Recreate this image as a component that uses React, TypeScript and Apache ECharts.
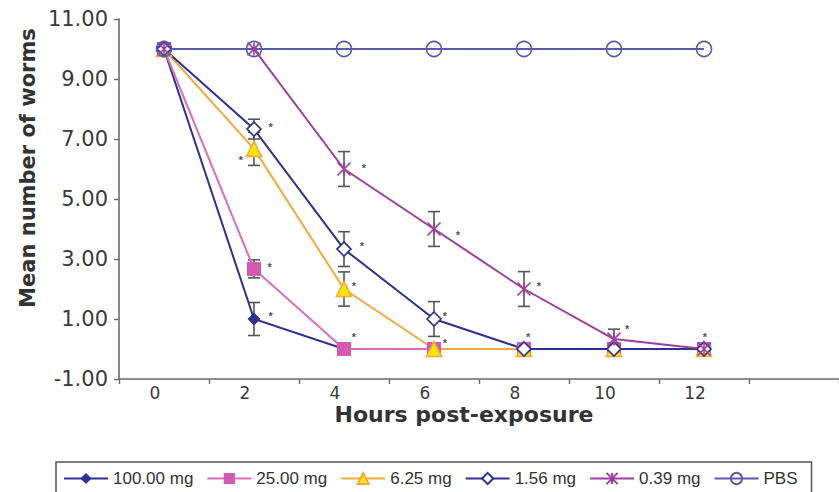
import React, { useEffect, useRef } from 'react';
import * as echarts from 'echarts';

// ---- data ----
const hours = [0, 2, 4, 6, 8, 10, 12];
const xTickLabels = ['0', '2', '4', '6', '8', '10', '12', ''];
const seriesNames = ['100.00 mg', '25.00 mg', '6.25 mg', '1.56 mg', '0.39 mg', 'PBS'];

const mean100 = [10, 1.0, 0, 0, 0, 0, 0];
const mean25 = [10, 2.67, 0, 0, 0, 0, 0];
const mean625 = [10, 6.67, 2.0, 0, 0, 0, 0];
const mean156 = [10, 7.33, 3.33, 1.0, 0, 0, 0];
const mean039 = [10, 10, 6.0, 4.0, 2.0, 0.33, 0];
const meanPBS = [10, 10, 10, 10, 10, 10, 10];

const err100 = [0, 0.55, 0, 0, 0, 0, 0];
const err25 = [0, 0.3, 0, 0, 0, 0, 0];
const err625 = [0, 0.55, 0.57, 0, 0, 0, 0];
const err156 = [0, 0.33, 0.58, 0.58, 0, 0, 0];
const err039 = [0, 0, 0.58, 0.58, 0.58, 0.33, 0];
const errPBS = [0, 0, 0, 0, 0, 0, 0];

// significance marks: [hour, mean number of worms]
const asteriskHours = [2.37, 2.35, 1.71, 2.37, 4.44, 4.4, 4.22, 4.22, 6.53, 6.24, 6.24, 8.33, 8.09, 10.29, 12.02];
const asteriskValues = [1.2, 2.83, 6.4, 7.5, 6.13, 3.53, 2.2, 0.5, 3.9, 1.2, 0.3, 2.2, 0.5, 0.77, 0.5];

const yMin = -1;
const yMax = 11;
const yInterval = 2;

const means = [mean100, mean25, mean625, mean156, mean039, meanPBS];
const errs = [err100, err25, err625, err156, err039, errPBS];

const STAR = 'path://M0,0L10,10M10,0L0,10M5,0L5,10';

const styles = [
  { line: '#2E3192', symbol: 'diamond', size: 13, fill: '#2E3192', border: '#2E3192' },
  { line: '#DA6EBA', symbol: 'rect', size: 14, fill: '#D35AB0', border: '#D35AB0' },
  { line: '#F5A83C', symbol: 'triangle', size: 15, fill: '#FFE800', border: '#F5A83C' },
  { line: '#2E3192', symbol: 'diamond', size: 14, fill: '#FFFFFF', border: '#2E3192' },
  { line: '#9E3D9E', symbol: STAR, size: 13, fill: 'rgba(0,0,0,0)', border: '#9E3D9E' },
  { line: '#5B5BAE', symbol: 'circle', size: 15, fill: 'rgba(0,0,0,0)', border: '#5B5BAE' },
];

export default function App() {
  const ref = useRef<HTMLDivElement>(null);

  useEffect(() => {
    if (!ref.current) return;
    const chart = echarts.init(ref.current, undefined, { renderer: 'svg' });

    const lineSeries = seriesNames.map((name, si) => {
      const st = styles[si];
      return {
        name,
        type: 'line',
        xAxisIndex: 1,
        yAxisIndex: 0,
        z: 3,
        data: hours.map((h, i) => [h, means[si][i]]),
        symbol: st.symbol,
        symbolSize: st.size,
        showSymbol: true,
        lineStyle: { color: st.line, width: 2 },
        itemStyle: {
          color: st.fill,
          borderColor: st.border,
          borderWidth: st.fill === st.border ? 0 : 1.6,
          opacity: 1,
        },
        emphasis: { disabled: true },
      };
    });

    const errData: number[][] = [];
    errs.forEach((arr, si) => {
      arr.forEach((e, i) => {
        if (e > 0) errData.push([hours[i], means[si][i], e]);
      });
    });

    const errorSeries = {
      type: 'custom',
      xAxisIndex: 1,
      yAxisIndex: 0,
      z: 2,
      data: errData,
      renderItem: (params: any, api: any) => {
        const x = api.value(0);
        const m = api.value(1);
        const e = api.value(2);
        const top = api.coord([x, m + e]);
        const bot = api.coord([x, m - e]);
        const w = 6;
        const style = { stroke: '#555555', lineWidth: 1.6 };
        return {
          type: 'group',
          children: [
            { type: 'line', shape: { x1: top[0], y1: top[1], x2: bot[0], y2: bot[1] }, style },
            { type: 'line', shape: { x1: top[0] - w, y1: top[1], x2: top[0] + w, y2: top[1] }, style },
            { type: 'line', shape: { x1: bot[0] - w, y1: bot[1], x2: bot[0] + w, y2: bot[1] }, style },
          ],
        };
      },
    };

    const asteriskSeries = {
      type: 'scatter',
      xAxisIndex: 1,
      yAxisIndex: 0,
      z: 4,
      symbolSize: 1,
      itemStyle: { color: 'rgba(0,0,0,0)' },
      data: asteriskHours.map((h, i) => [h, asteriskValues[i]]),
      label: {
        show: true,
        position: 'inside',
        formatter: '*',
        fontSize: 11,
        fontWeight: 'bold',
        fontFamily: 'Arial',
        color: '#222222',
        offset: [0, 3],
      },
      emphasis: { disabled: true },
    };

    chart.setOption({
      animation: false,
      backgroundColor: '#ffffff',
      grid: { left: 119, top: 19, width: 728, height: 360, containLabel: false },
      xAxis: [
        {
          type: 'category',
          data: xTickLabels,
          boundaryGap: true,
          axisLine: { onZero: false, lineStyle: { color: '#6a6a6a', width: 1.6 } },
          axisTick: { show: true, interval: 0, length: 5, alignWithLabel: false, lineStyle: { color: '#6a6a6a', width: 1.4 } },
          axisLabel: {
            interval: 0,
            margin: 5,
            fontSize: 17,
            fontFamily: 'DejaVu Sans',
            color: '#3a3a3a',
            padding: [0, 18, 0, 0],
          },
          splitLine: { show: false },
        },
        {
          type: 'value',
          min: -1,
          max: 15,
          show: false,
          splitLine: { show: false },
        },
      ],
      yAxis: [
        {
          type: 'value',
          min: yMin,
          max: yMax,
          interval: yInterval,
          axisLine: { show: true, onZero: false, lineStyle: { color: '#6a6a6a', width: 1.6 } },
          axisTick: { show: true, length: 5, lineStyle: { color: '#6a6a6a', width: 1.4 } },
          axisLabel: {
            margin: 11,
            fontSize: 21,
            fontFamily: 'DejaVu Sans',
            color: '#3a3a3a',
            formatter: (v: number) => v.toFixed(2),
          },
          splitLine: { show: false },
        },
      ],
      legend: {
        left: 56,
        top: 462,
        data: seriesNames,
        orient: 'horizontal',
        itemWidth: 44,
        itemHeight: 14,
        itemGap: 13,
        padding: [8, 14, 20, 7],
        borderColor: '#555555',
        borderWidth: 1.5,
        textStyle: { fontSize: 17, fontFamily: 'Arial', color: '#333333' },
      },
      graphic: [
        {
          type: 'text',
          x: 28,
          y: 168,
          rotation: Math.PI / 2,
          style: {
            text: 'Mean number of worms',
            fontSize: 21,
            fontWeight: 'bold',
            fontFamily: 'DejaVu Sans',
            fill: '#333333',
            align: 'center',
            verticalAlign: 'middle',
          },
        },
        {
          type: 'text',
          x: 464,
          y: 414,
          style: {
            text: 'Hours post-exposure',
            fontSize: 22,
            fontWeight: 'bold',
            fontFamily: 'DejaVu Sans',
            fill: '#333333',
            align: 'center',
            verticalAlign: 'middle',
          },
        },
      ],
      series: [errorSeries, ...lineSeries, asteriskSeries],
    });

    return () => chart.dispose();
  }, []);

  return (
    <div
      ref={ref}
      style={{ position: 'fixed', left: 0, top: 0, width: 839, height: 492, background: '#fff' }}
    />
  );
}
